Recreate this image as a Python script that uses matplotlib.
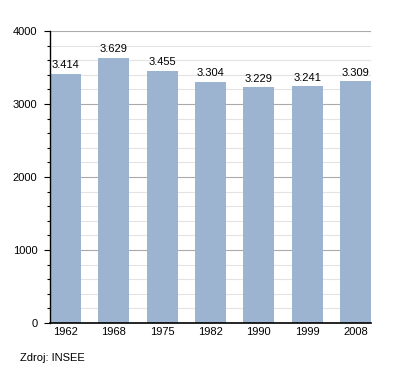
import matplotlib
matplotlib.use("Agg")
import matplotlib.pyplot as plt
from matplotlib.ticker import MultipleLocator

plt.rcParams["font.family"] = ["Liberation Sans", "DejaVu Sans"]

years = ["1962", "1968", "1975", "1982", "1990", "1999", "2008"]
population = [3414, 3629, 3455, 3304, 3229, 3241, 3309]
labels = ["3.414", "3.629", "3.455", "3.304", "3.229", "3.241", "3.309"]

fig = plt.figure(figsize=(4, 3.73), dpi=100)
ax = fig.add_axes([0.125, 0.134, 0.8025, 0.783])

x = range(len(years))
bars = ax.bar(x, population, width=0.64, color="#9cb4cf", zorder=2)

# value labels above bars
for i, v in enumerate(population):
    ax.text(i, v + 50, labels[i], ha="center", va="bottom", fontsize=8)

ax.set_xlim(-0.32, len(years) - 1 + 0.32)
ax.set_ylim(0, 4000)
ax.set_xticks(list(x))
ax.set_xticklabels(years, fontsize=8)
ax.yaxis.set_major_locator(MultipleLocator(1000))
ax.yaxis.set_minor_locator(MultipleLocator(200))
ax.tick_params(axis="y", labelsize=8, length=4, width=0.8, pad=5)
ax.tick_params(axis="y", which="minor", length=2.5, width=0.8)
ax.tick_params(axis="x", length=0, pad=3)

ax.grid(axis="y", which="major", color="#aaaaaa", linewidth=0.8, zorder=0)
ax.grid(axis="y", which="minor", color="#e3e3e3", linewidth=0.8, zorder=0)
ax.set_axisbelow(True)

for s in ["top", "right"]:
    ax.spines[s].set_visible(False)
ax.spines["left"].set_linewidth(1)
ax.spines["bottom"].set_linewidth(1.2)

fig.text(0.05, 0.028, "Zdroj: INSEE", fontsize=8, ha="left", va="bottom")

fig.savefig("out.png", dpi=100)
